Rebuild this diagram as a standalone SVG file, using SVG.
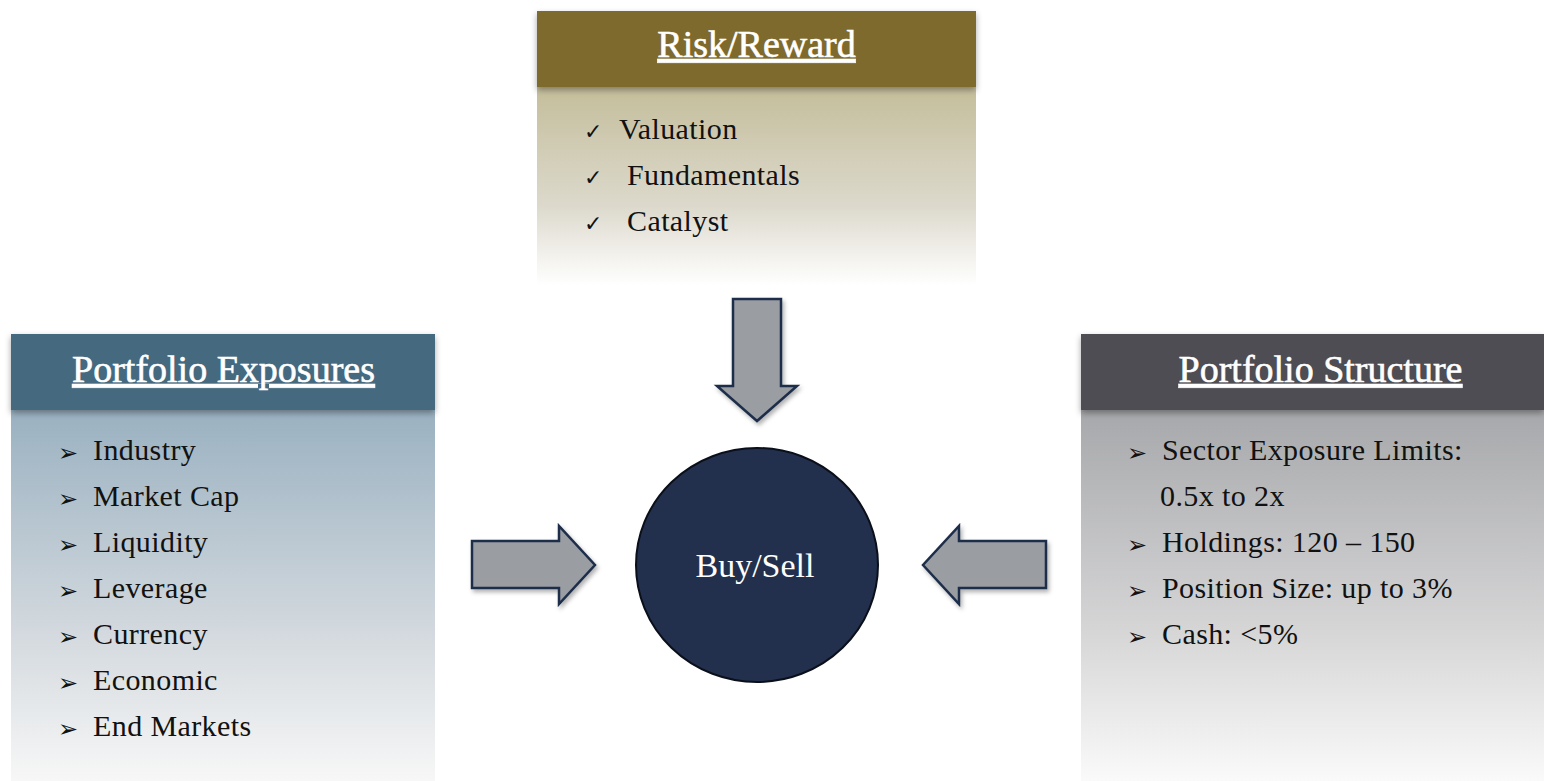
<svg xmlns="http://www.w3.org/2000/svg" width="1544" height="781" viewBox="0 0 1544 781">
<defs>
<linearGradient id="gGold" x1="0" y1="0" x2="0" y2="1"><stop offset="0" stop-color="#C4BE9B"/><stop offset="0.6" stop-color="#DCD9CC"/><stop offset="1" stop-color="#FFFFFF"/></linearGradient>
<linearGradient id="gBlue" x1="0" y1="0" x2="0" y2="1"><stop offset="0" stop-color="#9AB1C1"/><stop offset="0.6" stop-color="#D3D9DE"/><stop offset="1" stop-color="#F7F7F7"/></linearGradient>
<linearGradient id="gGrey" x1="0" y1="0" x2="0" y2="1"><stop offset="0" stop-color="#A7A8AB"/><stop offset="0.6" stop-color="#D6D6D7"/><stop offset="1" stop-color="#FAFAFA"/></linearGradient>
<filter id="sh" x="-5%" y="-10%" width="110%" height="130%"><feDropShadow dx="0" dy="3" stdDeviation="3" flood-color="#000" flood-opacity="0.35"/></filter>
<filter id="ash" x="-10%" y="-10%" width="130%" height="130%"><feDropShadow dx="2" dy="3" stdDeviation="2" flood-color="#000" flood-opacity="0.3"/></filter>
</defs>
<style>
.hd{font-family:"Liberation Serif",serif;font-size:38px;fill:#FFFFFF;stroke:#FFFFFF;stroke-width:0.6;text-anchor:middle;text-decoration:underline}
.tx{font-family:"Liberation Serif",serif;font-size:30px;letter-spacing:0.4px;fill:#111111}
.ck{font-family:"DejaVu Sans",sans-serif;font-size:22px;fill:#111111}
.bl{font-family:"DejaVu Sans",sans-serif;font-size:24px;fill:#111111}
.arr{fill:#9A9DA2;stroke:#1F2E4A;stroke-width:2.5;stroke-linejoin:miter;filter:url(#ash)}
</style>
<rect width="1544" height="781" fill="#FFFFFF"/>

<g id="risk-reward">
<rect x="537" y="87" width="439" height="198" fill="url(#gGold)"/>
<rect x="537" y="11" width="439" height="76" fill="#7F6B2D" filter="url(#sh)"/>
<text class="hd" x="756.5" y="57">Risk/Reward</text>
<text class="ck" x="584" y="139">✓</text><text class="tx" x="619" y="139">Valuation</text>
<text class="ck" x="584" y="185">✓</text><text class="tx" x="627" y="185">Fundamentals</text>
<text class="ck" x="584" y="231">✓</text><text class="tx" x="627" y="231">Catalyst</text>
</g>

<g id="portfolio-exposures">
<rect x="11" y="410" width="424" height="371" fill="url(#gBlue)"/>
<rect x="11" y="334" width="424" height="76" fill="#45697F" filter="url(#sh)"/>
<text class="hd" x="223.5" y="382">Portfolio Exposures</text>
<text class="bl" x="58" y="461">➢</text><text class="tx" x="93" y="460">Industry</text>
<text class="bl" x="58" y="507">➢</text><text class="tx" x="93" y="506">Market Cap</text>
<text class="bl" x="58" y="553">➢</text><text class="tx" x="93" y="552">Liquidity</text>
<text class="bl" x="58" y="599">➢</text><text class="tx" x="93" y="598">Leverage</text>
<text class="bl" x="58" y="645">➢</text><text class="tx" x="93" y="644">Currency</text>
<text class="bl" x="58" y="691">➢</text><text class="tx" x="93" y="690">Economic</text>
<text class="bl" x="58" y="737">➢</text><text class="tx" x="93" y="736">End Markets</text>
</g>

<g id="portfolio-structure">
<rect x="1081" y="410" width="463" height="371" fill="url(#gGrey)"/>
<rect x="1081" y="334" width="463" height="76" fill="#4D4E52" filter="url(#sh)"/>
<text class="hd" x="1320.5" y="382">Portfolio Structure</text>
<text class="bl" x="1127" y="461">➢</text><text class="tx" x="1162" y="460">Sector Exposure Limits:</text>
<text class="tx" x="1160" y="506">0.5x to 2x</text>
<text class="bl" x="1127" y="553">➢</text><text class="tx" x="1162" y="552">Holdings: 120 – 150</text>
<text class="bl" x="1127" y="599">➢</text><text class="tx" x="1162" y="598">Position Size: up to 3%</text>
<text class="bl" x="1127" y="645">➢</text><text class="tx" x="1162" y="644">Cash: &lt;5%</text>
</g>

<g id="buy-sell">
<ellipse cx="757" cy="565" rx="121" ry="117" fill="#22304D" stroke="#0A0F1A" stroke-width="2"/>
<text x="755" y="577" font-family="Liberation Serif, serif" font-size="34" fill="#FFFFFF" text-anchor="middle">Buy/Sell</text>
</g>

<g id="connectors">
<path class="arr" d="M733,299 L781,299 L781,386 L797,386 L757,421 L717,386 L733,386 Z"/>
<path class="arr" d="M472,541 L559,541 L559,526 L595,565 L559,604 L559,588 L472,588 Z"/>
<path class="arr" d="M1046,541 L959,541 L959,526 L923,565 L959,604 L959,588 L1046,588 Z"/>
</g>
</svg>
